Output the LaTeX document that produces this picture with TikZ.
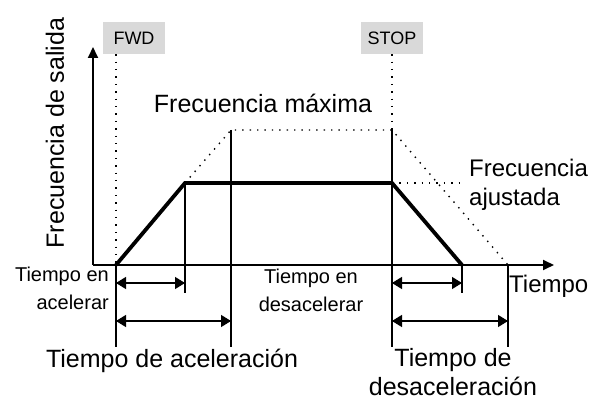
\documentclass[tikz,border=0pt]{standalone}
\usepackage{fontspec}
\setmainfont{Liberation Sans}
\usetikzlibrary{arrows.meta, positioning}
\tikzset{
  axis/.style   ={-{Triangle[length=11pt, width=10pt]}, line width=1.8pt},
  profile/.style={line width=3.8pt, line join=miter},
  guide/.style  ={line width=1.3pt},
  hint/.style   ={line width=1.4pt, dash pattern=on 1.4pt off 6pt},
  dim/.style    ={{Triangle[length=10pt, width=12pt]}-{Triangle[length=10pt, width=12pt]}, line width=1.3pt},
  tag/.style    ={fill=black!15, minimum width=62pt, minimum height=32pt,
                  inner sep=0pt, font=\fontsize{18}{20}\selectfont},
  big/.style    ={inner sep=0pt, font=\fontsize{25}{29}\selectfont},
  mid/.style    ={inner sep=0pt, font=\fontsize{24}{29}\selectfont},
  small/.style  ={inner sep=0pt, font=\fontsize{20}{28}\selectfont},
}

\begin{document}
\begin{tikzpicture}[x=1pt, y=-1pt]
  \useasboundingbox (0,0) rectangle (598,401);
  \coordinate (O)    at (93,265);
  \coordinate (ytop) at (93,47);
  \coordinate (xend) at (554,265);
  \coordinate (A0)   at (116,265);
  \coordinate (A1)   at (185,183);
  \coordinate (B1)   at (392,183);
  \coordinate (B0)   at (462,265);
  \coordinate (M1)   at (231,130);
  \coordinate (M2)   at (392,130);
  \coordinate (D0)   at (508,265);
  \coordinate (low)  at (0,347);
  \coordinate (mid)  at (0,293);
  \coordinate (row1) at (0,283);
  \coordinate (row2) at (0,321);

  \node[tag] (FWD)  at (134,38) {FWD};
  \node[tag] (STOP) at (392,38) {STOP};

  \node[big, rotate=90] (ylab) at (55,133) {Frecuencia de salida};
  \node[big] (fmax) at (263,103) {Frecuencia máxima};
  \node[mid, align=left, anchor=west] (fset) at (469,185) {Frecuencia\\ajustada};
  \node[mid, anchor=west] (xlab) at (509,286) {Tiempo};
  \node[small, align=right, anchor=east] (tacc) at (109,288) {Tiempo en\\acelerar};
  \node[small, align=center] (tdec) at (311,290) {Tiempo en\\desacelerar};
  \node[big] (Tacc) at (172,361) {Tiempo de aceleración};
  \node[big, align=center] (Tdec) at (453,372) {Tiempo de\\desaceleración};

  \draw[hint] (A0 |- FWD.south) -- (A0);
  \draw[hint] (STOP.south) -- (M2);
  \draw[hint] (A1) -- (M1) -- (M2) -- (D0);
  \draw[hint] (B1) -- (B0 |- B1);

  \draw[guide] (A0) -- (A0 |- low);
  \draw[guide] (A1) -- (A1 |- mid);
  \draw[guide] (M1) -- (M1 |- low);
  \draw[guide] (M2) -- (M2 |- low);
  \draw[guide] (B0) -- (B0 |- mid);
  \draw[guide] (D0) -- (D0 |- low);

  \draw[axis] (O) -- (ytop);
  \draw[axis] (O) -- (xend);
  \draw[profile] (A0) -- (A1) -- (B1) -- (B0);

  \draw[dim] (A0 |- row1) -- (A1 |- row1);
  \draw[dim] (A0 |- row2) -- (M1 |- row2);
  \draw[dim] (M2 |- row1) -- (B0 |- row1);
  \draw[dim] (M2 |- row2) -- (D0 |- row2);
\end{tikzpicture}
\end{document}
